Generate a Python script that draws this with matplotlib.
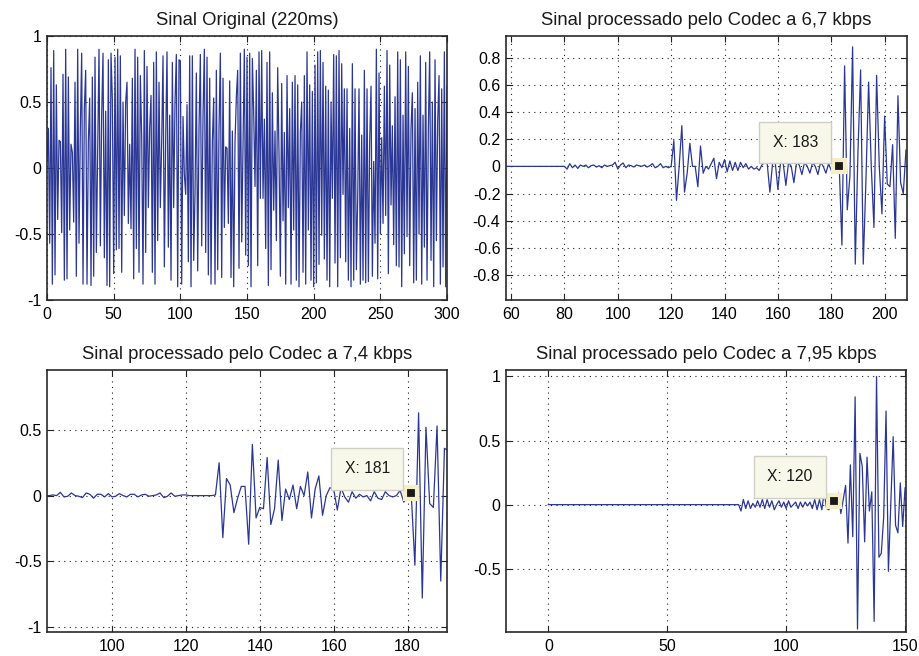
import numpy as np
import matplotlib
matplotlib.use("Agg")
import matplotlib.pyplot as plt

plt.rcParams['font.family'] = ['Liberation Sans', 'DejaVu Sans']
plt.rcParams['axes.unicode_minus'] = False

# --- data ---
orig = [
    0.05, 0.30, -0.57, 0.76, -0.88, 0.89, -0.81, 0.63, -0.39, 0.21,
    0.20, -0.49, 0.71, -0.85, 0.90, -0.84, 0.69, -0.47, 0.18, 0.12,
    -0.41, 0.65, -0.82, 0.90, -0.57, 0.30, 0.87, -0.88, 0.45, 0.74,
    -0.88, 0.20, 0.53, -0.89, 0.69, -0.82, 0.84, -0.64, 0.10, 0.90,
    -0.59, 0.40, 0.87, -0.68, 0.43, -0.89, 0.82, -0.90, 0.87, 0.52,
    -0.80, 0.84, -0.62, 0.90, -0.61, 0.85, -0.79, 0.50, -0.36, 0.50,
    0.65, -0.42, 0.18, -0.46, 0.68, -0.84, 0.90, -0.61, 0.84, -0.79,
    0.70, 0.24, -0.88, 0.89, -0.64, 0.77, -0.30, 0.30, 0.55, -0.79,
    0.80, -0.88, 0.88, -0.55, 0.65, -0.30, 0.20, 0.85, -0.75, 0.22,
    0.88, -0.60, 0.40, -0.85, 0.80, -0.30, 0.50, 0.86, -0.90, 0.82,
    0.81, -0.88, 0.39, -0.05, -0.20, 0.48, -0.71, 0.85, -0.90, 0.85,
    -0.70, -0.19, 0.72, -0.78, 0.30, 0.86, -0.59, 0.40, 0.90, -0.64,
    0.84, -0.81, 0.68, -0.88, 0.20, 0.53, -0.88, 0.74, -0.77, 0.30,
    0.87, -0.83, 0.68, -0.45, 0.16, 0.15, -0.42, 0.66, -0.83, 0.28,
    -0.90, 0.20, 0.54, 0.74, -0.76, 0.87, -0.56, 0.20, 0.90, -0.66,
    0.84, -0.74, 0.87, -0.90, 0.83, 0.42, -0.14, 0.74, -0.74, 0.88,
    -0.23, 0.89, -0.23, 0.37, -0.61, 0.80, -0.89, 0.88, -0.77, 0.57,
    -0.32, 0.28, -0.55, 0.76, 0.10, -0.82, 0.64, -0.40, 0.27, -0.88,
    0.70, -0.30, 0.45, -0.88, 0.65, -0.47, 0.70, -0.85, 0.63, -0.90,
    0.27, 0.50, -0.79, 0.70, -0.88, 0.88, -0.47, 0.63, -0.85, 0.58,
    -0.90, 0.78, -0.87, 0.88, -0.73, 0.89, -0.51, 0.80, -0.69, 0.62,
    -0.85, 0.59, -0.90, 0.50, -0.23, 0.86, -0.72, 0.85, -0.90, 0.89,
    -0.68, 0.79, -0.20, 0.60, -0.71, 0.60, -0.85, 0.30, -0.90, 0.79,
    -0.85, 0.60, -0.77, -0.23, 0.60, -0.88, 0.25, -0.85, 0.74, -0.87,
    0.60, -0.86, 0.20, 0.62, -0.82, 0.05, -0.57, 0.90, -0.84, 0.72,
    -0.50, 0.23, -0.42, 0.62, -0.36, 0.89, -0.80, 0.78, -0.28, 0.32,
    -0.58, 0.54, -0.74, 0.88, -0.75, 0.82, -0.90, 0.40, -0.65, 0.88,
    -0.52, 0.77, -0.74, 0.30, 0.57, -0.87, 0.45, -0.85, 0.65, -0.50,
    0.85, -0.88, 0.40, -0.60, 0.80, -0.85, 0.30, 0.88, -0.70, 0.50,
    -0.90, 0.82, -0.55, 0.35, 0.70, -0.88, 0.60, -0.75, 0.88, -0.90,
    0.62,
]

# codec 6,7 kbps, samples 58..208
c67 = [
    0.0, 0.0, 0.0, 0.0, 0.0, 0.0, 0.0, 0.0, 0.0, 0.0, 0.0,
    0.0, 0.0, 0.0, 0.0, 0.0, 0.0, 0.0, 0.0, 0.0, 0.0, 0.0,
    0.0, -0.02, 0.02, -0.01, 0.01, -0.015, 0.01, 0.0, 0.01, -0.01,
    0.005, 0.01, -0.005, 0.005, -0.01, 0.01, 0.0, 0.005, 0.01, 0.03,
    -0.02, 0.01, 0.025, -0.01, 0.01, 0.005, -0.005, 0.01, 0.005, 0.0,
    0.01, -0.005, 0.005, 0.02, -0.01, 0.0, 0.02, -0.01, 0.0, -0.01,
    0.0, 0.19, -0.25, 0.0, 0.30, -0.19, -0.05, 0.17, 0.0, 0.0,
    -0.15, 0.15, -0.05, 0.0, -0.02, 0.02, 0.06, -0.09, 0.03, -0.01,
    0.05, -0.04, 0.04, -0.03, 0.03, -0.03, 0.03, -0.01, 0.02, -0.02,
    0.0, -0.02, -0.01, -0.03, 0.01, 0.03, 0.02, -0.19, 0.02, 0.03,
    -0.17, 0.03, 0.02, -0.14, 0.03, 0.0, -0.12, 0.03, 0.01, -0.06,
    0.03, 0.0, -0.05, 0.03, 0.0, -0.06, 0.03, 0.0, -0.05, 0.02,
    -0.03, 0.02, -0.02, 0.0, -0.58, 0.74, -0.32, -0.07, 0.88, -0.72,
    0.10, 0.71, -0.72, -0.10, 0.62, 0.0, -0.45, 0.67, 0.0, -0.35,
    0.37, -0.13, -0.15, 0.16, -0.53, 0.52, -0.12, -0.20, 0.12,
]
c67_start = 58

# codec 7,4 kbps, samples 82..191
c74 = [
    0.0, 0.0, 0.005, 0.0, 0.025, -0.01, -0.005, 0.02,
    0.0, -0.005, -0.015, 0.02, 0.01, -0.02, 0.01, 0.01, -0.01, 0.015,
    -0.01, -0.005, 0.015, 0.0, -0.01, 0.01, 0.01, -0.01, 0.005, 0.01,
    -0.005, 0.0, 0.005, 0.02, -0.015, -0.005, 0.02, -0.005, 0.0, 0.005,
    0.005, 0.0, 0.0, 0.0, 0.0, 0.0, 0.0, 0.0, 0.005,
    0.25, -0.32, 0.13, 0.08, -0.13, -0.02, 0.07, 0.07, -0.37, 0.39, -0.17,
    -0.09, -0.10, 0.29, -0.22, -0.10, 0.27, -0.19, 0.05, -0.03, 0.08,
    -0.10, 0.07, 0.0, 0.18, -0.17, 0.05, 0.15, -0.15, 0.0, 0.06,
    0.05, -0.11, 0.06, -0.01, -0.05, 0.03, -0.02, 0.01, -0.01, 0.0,
    -0.04, 0.03, -0.02, -0.03, 0.03, 0.0, -0.01, 0.0, 0.04, -0.05,
    -0.01, 0.02, -0.53, 0.63, -0.78, 0.52, -0.06, -0.09, 0.53, -0.65, 0.36, 0.34,
]
c74_start = 82

# codec 7,95 kbps, samples 0..150
c795 = [
    0.0, 0.0, 0.0, 0.0, 0.0, 0.0, 0.0, 0.0, 0.0, 0.0,
    0.0, 0.0, 0.0, 0.0, 0.0, 0.0, 0.0, 0.0, 0.0, 0.0,
    0.0, 0.0, 0.0, 0.0, 0.0, 0.0, 0.0, 0.0, 0.0, 0.0,
    0.0, 0.0, 0.0, 0.0, 0.0, 0.0, 0.0, 0.0, 0.0, 0.0,
    0.0, 0.0, 0.0, 0.0, 0.0, 0.0, 0.0, 0.0, 0.0, 0.0,
    0.0, 0.0, 0.0, 0.0, 0.0, 0.0, 0.0, 0.0, 0.0, 0.0,
    0.0, 0.0, 0.0, 0.0, 0.0, 0.0, 0.0, 0.0, 0.0, 0.0,
    0.0, 0.0, 0.0, 0.0, 0.0, 0.0, 0.0, 0.0, 0.0, 0.0,
    0.0, -0.05, 0.04, -0.03, 0.03, -0.03, 0.01, -0.02, 0.03, -0.02,
    0.04, -0.03, 0.04, -0.02, 0.03, -0.04, 0.0, 0.03, -0.02, 0.02,
    -0.03, 0.03, -0.02, 0.0, 0.02, -0.03, 0.02, -0.02, 0.02, -0.01,
    0.02, -0.03, 0.04, -0.04, 0.04, -0.04, 0.10, -0.03, -0.04, 0.02,
    0.03, -0.01, 0.09, -0.07, 0.04, 0.15, -0.30, 0.31, -0.25, 0.84,
    -0.97, 0.40, 0.30, -0.29, 0.37, -0.05, 0.10, -0.91, 1.0, -0.41,
    -0.38, -0.10, 0.73, -0.52, 0.0, 0.53, -0.16, -0.22, 0.17, -0.17, 0.13,
]
c795_start = 0

titles = ['Sinal Original (220ms)',
          'Sinal processado pelo Codec a 6,7 kbps',
          'Sinal processado pelo Codec a 7,4 kbps',
          'Sinal processado pelo Codec a 7,95 kbps']

tip67 = (183, 0.0)
tip74 = (181, 0.02)
tip795 = (120, 0.03)

LINE = '#2b3795'

fig = plt.figure(figsize=(9.2, 6.56), dpi=100)
ax1 = fig.add_axes([0.0511, 0.5427, 0.4348, 0.4024])
ax2 = fig.add_axes([0.5500, 0.5427, 0.4359, 0.4024])
ax3 = fig.add_axes([0.0511, 0.0366, 0.4348, 0.3994])
ax4 = fig.add_axes([0.5500, 0.0366, 0.4348, 0.3994])


def style(ax, title):
    ax.grid(True, linestyle=(0, (1, 4)), color='#222222', linewidth=0.8)
    ax.tick_params(direction='in', top=True, right=True, length=4,
                   labelsize=11.5, pad=5, color='#222222')
    ax.tick_params(axis='y', pad=4)
    for s in ax.spines.values():
        s.set_linewidth(1.2)
        s.set_color('#2a2a2a')
    ax.xaxis.set_major_formatter(plt.FuncFormatter(lambda v, p: '%g' % v))
    ax.yaxis.set_major_formatter(plt.FuncFormatter(lambda v, p: '%g' % v))
    ax.set_title(title, fontsize=13.3, pad=8, color='#1a1a1a')


def datatip(ax, pt, label):
    ax.plot([pt[0]], [pt[1]], marker='s', ms=8.5, mfc='#1a1a1a',
            mec='#f4efc6', mew=3, zorder=5, clip_on=False)
    ax.annotate(label, xy=pt, xytext=(-44, 24), textcoords='offset pixels',
                ha='center', va='center', fontsize=11.3, color='#1a1a1a',
                bbox=dict(boxstyle='square,pad=0.85', fc='#f8f8ea',
                          ec='#cfcfc4', lw=1.0), zorder=6)


x1 = np.arange(len(orig))
ax1.plot(x1, orig, color=LINE, lw=0.9)
ax1.set_xlim(0, 300)
ax1.set_ylim(-1, 1)
ax1.set_xticks([0, 50, 100, 150, 200, 250, 300])
ax1.set_yticks([-1, -0.5, 0, 0.5, 1])
style(ax1, titles[0])

x2 = np.arange(c67_start, c67_start + len(c67))
ax2.plot(x2, c67, color=LINE, lw=0.9)
ax2.set_xlim(58.1, 208.4)
ax2.set_ylim(-0.984, 0.96)
ax2.set_xticks(np.arange(60, 201, 20))
ax2.set_yticks([-0.8, -0.6, -0.4, -0.2, 0, 0.2, 0.4, 0.6, 0.8])
style(ax2, titles[1])
datatip(ax2, tip67, 'X: %d' % tip67[0])

x3 = np.arange(c74_start, c74_start + len(c74))
ax3.plot(x3, c74, color=LINE, lw=0.9)
ax3.set_xlim(82.4, 190.7)
ax3.set_ylim(-1.038, 0.956)
ax3.set_xticks([100, 120, 140, 160, 180])
ax3.set_yticks([-1, -0.5, 0, 0.5])
style(ax3, titles[2])
datatip(ax3, tip74, 'X: %d' % tip74[0])

x4 = np.arange(c795_start, c795_start + len(c795))
ax4.plot(x4, c795, color=LINE, lw=0.9)
ax4.set_xlim(-17.8, 150.4)
ax4.set_ylim(-0.993, 1.05)
ax4.set_xticks([0, 50, 100, 150])
ax4.set_yticks([-0.5, 0, 0.5, 1])
style(ax4, titles[3])
datatip(ax4, tip795, 'X: %d' % tip795[0])

plt.savefig("out.png", dpi=100)
